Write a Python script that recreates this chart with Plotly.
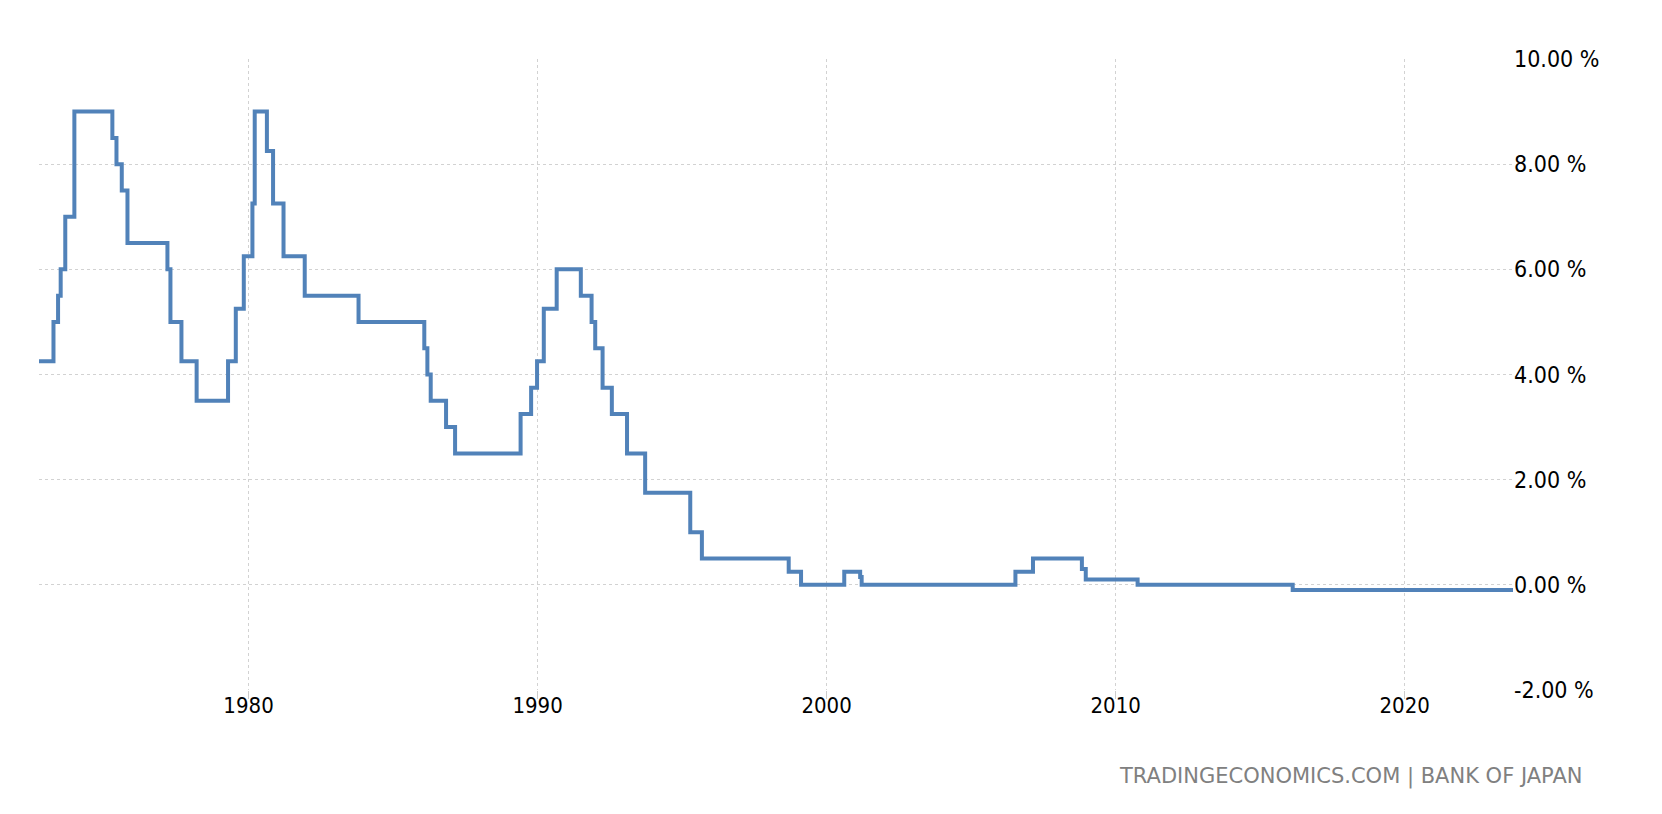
import plotly.graph_objects as go

# ---- data (step changes of the policy rate) ----
change_dates = [
    "1972-10-01", "1973-04-02", "1973-05-30", "1973-07-02", "1973-08-29", "1973-12-22",
    "1975-04-16", "1975-06-07", "1975-08-13", "1975-10-24",
    "1977-03-12", "1977-04-19", "1977-09-05", "1978-03-16",
    "1979-04-17", "1979-07-24", "1979-11-02", "1980-02-19", "1980-03-19",
    "1980-08-20", "1980-11-06", "1981-03-18", "1981-12-11", "1983-10-22",
    "1986-01-30", "1986-03-10", "1986-04-21", "1986-11-01", "1987-02-23",
    "1989-05-31", "1989-10-11", "1989-12-25", "1990-03-20", "1990-08-30",
    "1991-07-01", "1991-11-14", "1991-12-30", "1992-04-01", "1992-07-27",
    "1993-02-04", "1993-09-21", "1995-04-14", "1995-09-08",
    "1998-09-09", "1999-02-12", "2000-08-11", "2001-02-28", "2001-03-19",
    "2006-07-14", "2007-02-21", "2008-10-31", "2008-12-19", "2010-10-05",
    "2016-02-16",
]
rates = [
    4.25, 5.00, 5.50, 6.00, 7.00, 9.00,
    8.50, 8.00, 7.50, 6.50,
    6.00, 5.00, 4.25, 3.50,
    4.25, 5.25, 6.25, 7.25, 9.00,
    8.25, 7.25, 6.25, 5.50, 5.00,
    4.50, 4.00, 3.50, 3.00, 2.50,
    3.25, 3.75, 4.25, 5.25, 6.00,
    5.50, 5.00, 4.50, 3.75, 3.25,
    2.50, 1.75, 1.00, 0.50,
    0.25, 0.00, 0.25, 0.15, 0.00,
    0.25, 0.50, 0.30, 0.10, 0.00,
    -0.10,
]
end_date = "2023-10-01"

year_ticks = ["1980-01-01", "1990-01-01", "2000-01-01", "2010-01-01", "2020-01-01"]
year_labels = ["1980", "1990", "2000", "2010", "2020"]
y_ticks = [-2, 0, 2, 4, 6, 8, 10]
y_labels = [f"{v:.2f} %" for v in y_ticks]

source_text = "TRADINGECONOMICS.COM | BANK OF JAPAN"

# ---- figure geometry (page has an 8px body margin) ----
W, H = 1654, 806
ML, MR, MT, MB = 31, 149, 51, 124
plot_w = W - ML - MR
plot_h = H - MT - MB

FONT = "'DejaVu Sans Condensed', 'DejaVu Sans', sans-serif"
GRID = "#d2d2d2"

xs = change_dates + [end_date]
ys = rates + [rates[-1]]

fig = go.Figure()
fig.add_trace(go.Scatter(
    x=xs, y=ys, mode="lines",
    line=dict(color="#5182b9", width=4, shape="hv"),
    hoverinfo="skip", showlegend=False,
))
# invisible helper trace so the tick-mark axis is drawn
fig.add_trace(go.Scatter(
    x=[end_date], y=[rates[-1]], xaxis="x2", mode="markers",
    marker=dict(opacity=0), hoverinfo="skip", showlegend=False,
))

fig.update_layout(
    width=W, height=H,
    margin=dict(l=ML, r=MR, t=MT, b=MB, pad=0),
    paper_bgcolor="white", plot_bgcolor="white",
    font=dict(family=FONT, size=22, color="#000000"),
    xaxis=dict(
        type="date",
        range=[change_dates[0], end_date],
        tickvals=year_ticks, ticktext=year_labels,
        showgrid=True, gridcolor=GRID, griddash="dot", gridwidth=1,
        ticks="", showline=False, zeroline=False,
        tickfont=dict(family=FONT, size=22, color="#000000"),
    ),
    xaxis2=dict(
        type="date", overlaying="x", matches="x", anchor="y", side="bottom",
        tickvals=year_ticks, showticklabels=False,
        ticks="outside", ticklen=8, tickcolor="#cccccc", tickwidth=1,
        showgrid=False, showline=False, zeroline=False,
    ),
    yaxis=dict(
        side="right",
        range=[-2, 10],
        tickvals=y_ticks, ticktext=y_labels,
        showgrid=True, gridcolor=GRID, griddash="dot", gridwidth=1,
        showline=False, zeroline=False, ticks="",
        tickfont=dict(family=FONT, size=23, color="#000000"),
    ),
    annotations=[dict(
        text=source_text, showarrow=False,
        xref="paper", yref="paper",
        x=(1585 - 39.3) / plot_w, y=(690.3 - 777) / plot_h,
        xanchor="right", yanchor="middle",
        font=dict(family="'DejaVu Sans', sans-serif", size=21, color="#808080"),
    )],
)

fig.write_html("out.html")
